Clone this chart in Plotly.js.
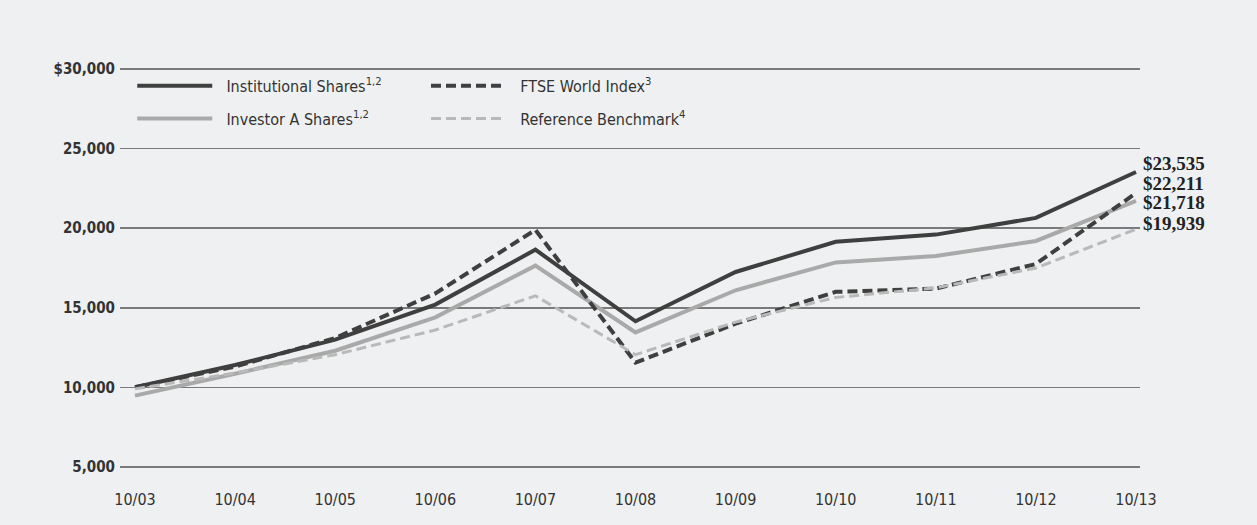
<!DOCTYPE html>
<html>
<head>
<meta charset="utf-8">
<script src="https://cdn.plot.ly/plotly-3.0.1.min.js"></script>
<style>html,body{margin:0;padding:0;background:#eff0f1;}#chart{width:1257px;height:525px;}</style>
</head>
<body>
<div id="chart"></div>
<script>
const categories = ["10/03","10/04","10/05","10/06","10/07","10/08","10/09","10/10","10/11","10/12","10/13"];
const institutional = [10000, 11400, 13000, 15200, 18650, 14150, 17250, 19150, 19600, 20650, 23535];
const investorA = [9475, 10850, 12300, 14400, 17650, 13450, 16100, 17850, 18250, 19200, 21718];
const ftseWorld = [10000, 11300, 13100, 15900, 19900, 11550, 14000, 16000, 16200, 17750, 22211];
const referenceBench = [9900, 10900, 12050, 13600, 15750, 12050, 14100, 15650, 16250, 17500, 19939];
const yTickVals = [5000, 10000, 15000, 20000, 25000, 30000];
const yTickText = ["5,000", "10,000", "15,000", "20,000", "25,000", "$30,000"];
const endLabels = ["$23,535", "$22,211", "$21,718", "$19,939"];
const endValues = [23535, 22211, 21718, 19939];
const endShifts = [9, 10, -2, 6];

const legendFont = {family: "Liberation Sans Narrow, DejaVu Sans Condensed", size: 16, color: "#333"};
const sp = "\u00a0\u00a0";

const traces = [
  {x: categories, y: institutional, name: sp + "Institutional Shares<sup>1,2</sup>", mode: "lines",
   legend: "legend", legendgroup: "a", line: {color: "#3f3f3f", width: 4}},
  {x: categories, y: investorA, name: sp + "Investor A Shares<sup>1,2</sup>", mode: "lines",
   legend: "legend", legendgroup: "b", line: {color: "#a9a9a9", width: 4}},
  {x: categories, y: ftseWorld, name: sp + "FTSE World Index<sup>3</sup>", mode: "lines",
   legend: "legend2", legendgroup: "c", line: {color: "#3f3f3f", width: 4, dash: "10px,5px"}},
  {x: categories, y: referenceBench, name: sp + "Reference Benchmark<sup>4</sup>", mode: "lines",
   legend: "legend2", legendgroup: "d", line: {color: "#b9b9b9", width: 3, dash: "10px,5px"}}
];

const annotations = endLabels.map((t, i) => ({
  x: categories[categories.length - 1], y: endValues[i], text: t,
  xref: "x", yref: "y", xanchor: "left", yanchor: "middle", xshift: 5, yshift: endShifts[i],
  showarrow: false, font: {family: "Liberation Serif", size: 19, color: "#222", weight: "bold"}
}));

const layout = {
  width: 1257, height: 525,
  paper_bgcolor: "#eff0f1", plot_bgcolor: "#eff0f1",
  margin: {l: 120, r: 117, t: 66, b: 55},
  showlegend: true,
  legend: {orientation: "v", x: 0.012, y: 0.993, xanchor: "left", yanchor: "top",
           bgcolor: "rgba(0,0,0,0)", itemwidth: 75, tracegroupgap: 9, font: legendFont},
  legend2: {orientation: "v", x: 0.3, y: 0.993, xanchor: "left", yanchor: "top",
           bgcolor: "rgba(0,0,0,0)", itemwidth: 75, tracegroupgap: 9, font: legendFont},
  xaxis: {type: "category", range: [-0.15, 10.04], showgrid: false, zeroline: false, showline: false,
          ticks: "", ticklabelstandoff: 18,
          tickfont: {family: "Liberation Sans Narrow, DejaVu Sans Condensed", size: 16, color: "#333"}},
  yaxis: {range: [4800, 30200], tickvals: yTickVals, ticktext: yTickText, showgrid: true,
          gridcolor: "#7a7a7a", gridwidth: 1.5, zeroline: false, showline: false, ticks: "",
          ticklabelstandoff: 4,
          tickfont: {family: "Liberation Sans Narrow, DejaVu Sans Condensed", size: 15, color: "#333", weight: "bold"}},
  annotations: annotations
};

Plotly.newPlot("chart", traces, layout, {displayModeBar: false, staticPlot: true});
</script>
</body>
</html>
